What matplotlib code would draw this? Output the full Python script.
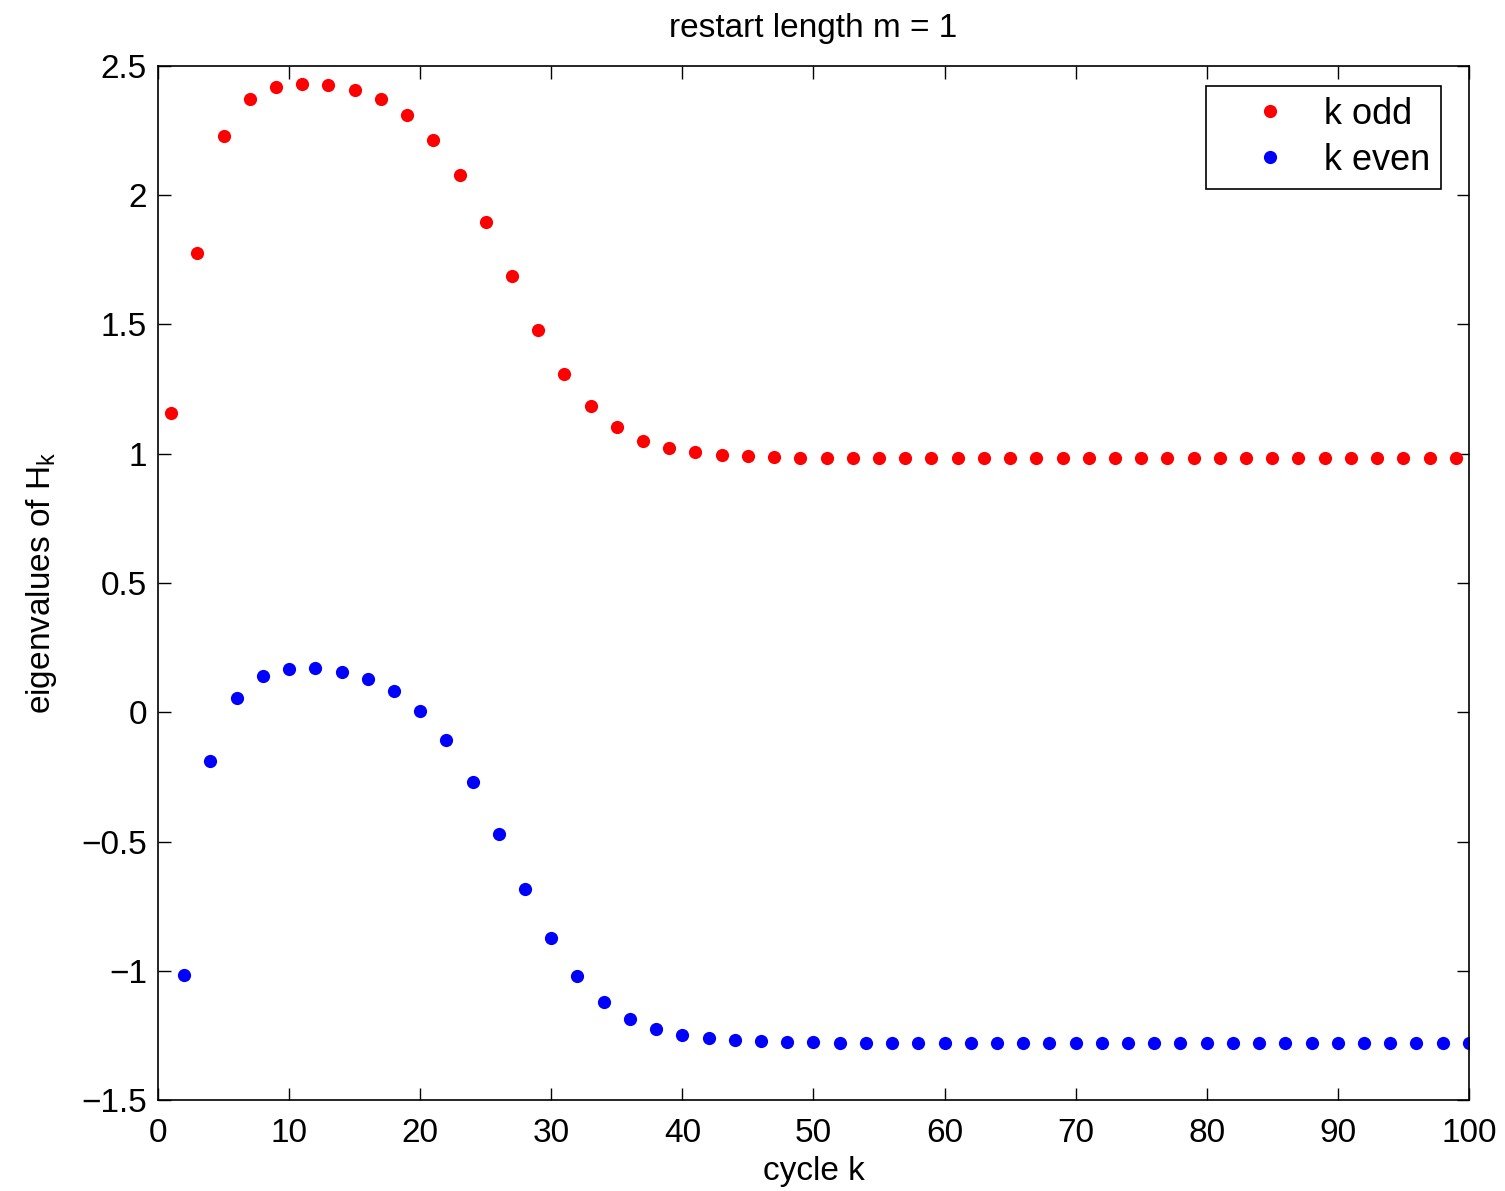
import numpy as np
from matplotlib import pyplot as plt

# eigenvalues, one per restart cycle
k_odd = np.arange(1, 101, 2)
ev_odd = [1.158, 1.776, 2.230, 2.371, 2.418, 2.431, 2.426, 2.407, 2.371, 2.310,
          2.215, 2.077, 1.896, 1.687, 1.479, 1.308, 1.183, 1.102, 1.051, 1.023,
          1.006, 0.996, 0.991, 0.987, 0.985, 0.983, 0.982, 0.982, 0.982, 0.982,
          0.982, 0.982, 0.982, 0.982, 0.982, 0.982, 0.982, 0.982, 0.982, 0.982,
          0.982, 0.982, 0.982, 0.982, 0.982, 0.982, 0.982, 0.982, 0.982, 0.982]

k_even = np.arange(2, 101, 2)
ev_even = [-1.018, -0.189, 0.057, 0.139, 0.166, 0.170, 0.157, 0.130, 0.081, 0.005,
           -0.109, -0.270, -0.470, -0.682, -0.874, -1.022, -1.122, -1.188, -1.225, -1.247,
           -1.259, -1.268, -1.271, -1.274, -1.277, -1.278, -1.278, -1.278, -1.278, -1.278,
           -1.278, -1.278, -1.278, -1.278, -1.278, -1.278, -1.278, -1.278, -1.278, -1.278,
           -1.278, -1.278, -1.278, -1.278, -1.278, -1.278, -1.278, -1.278, -1.278, -1.278]

x_ticks = np.arange(0, 101, 10)
y_ticks = np.arange(-1.5, 2.51, 0.5)

plt.rcParams['font.family'] = ['Liberation Sans', 'DejaVu Sans']
plt.rcParams['mathtext.default'] = 'regular'

fig = plt.figure(figsize=(15.05, 11.91), dpi=100)
ax = fig.add_axes([0.105, 0.0764, 0.871, 0.8682])

ax.plot(k_odd, ev_odd, 'o', color='red', markersize=9.5, markeredgewidth=0,
        label='k odd')
ax.plot(k_even, ev_even, 'o', color='blue', markersize=9.5, markeredgewidth=0,
        label='k even')

ax.set_xlim(0, 100)
ax.set_ylim(-1.5, 2.5)
ax.set_xticks(x_ticks)
ax.set_yticks(y_ticks)
ax.set_yticklabels(['{:g}'.format(v).replace('-', '\u2212') for v in y_ticks])
ax.tick_params(direction='in', length=9, width=1, top=True, right=True,
               labelsize=24)
ax.tick_params(axis='x', pad=13)
ax.tick_params(axis='y', pad=8)
for spine in ax.spines.values():
    spine.set_linewidth(1.2)

ax.set_title('restart length m = 1', fontsize=24, pad=21)
ax.set_xlabel('cycle k', fontsize=24, labelpad=5)
ax.set_ylabel('eigenvalues of H$_k$', fontsize=24, labelpad=16)

leg = ax.legend(loc='upper right', fontsize=26, fancybox=False,
                edgecolor='black', framealpha=1,
                bbox_to_anchor=(0.9786, 0.9806), borderaxespad=0,
                handletextpad=0.05, borderpad=0.3, labelspacing=0.3,
                handlelength=2.9)
leg.get_frame().set_linewidth(1.2)

plt.savefig('out.png', dpi=100)
plt.close()
